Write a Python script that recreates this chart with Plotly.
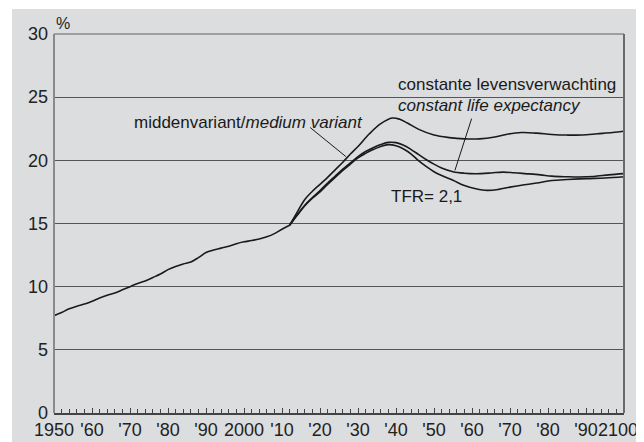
import plotly.graph_objects as go

# ---- data (percent) ----
hist_years = [1950, 1952, 1954, 1956, 1958, 1960, 1962, 1964, 1966, 1968, 1970, 1972, 1974, 1976,
              1978, 1980, 1982, 1984, 1986, 1988, 1990, 1992, 1994, 1996, 1998, 2000, 2002, 2004,
              2006, 2008, 2010, 2012]
hist_values = [7.7, 7.95, 8.25, 8.45, 8.62, 8.85, 9.1, 9.32, 9.5, 9.75, 10.0, 10.25, 10.45, 10.72,
               11.0, 11.35, 11.6, 11.8, 11.95, 12.3, 12.7, 12.9, 13.05, 13.2, 13.4, 13.55, 13.65, 13.78,
               13.95, 14.2, 14.55, 14.86]

le_years = [2012, 2014, 2016, 2018, 2020, 2022, 2024, 2026, 2028, 2030, 2033, 2036, 2039, 2041, 2043,
            2046, 2050, 2054, 2058, 2062, 2066, 2069, 2073, 2077, 2081, 2085, 2089, 2093, 2097, 2100]
le_values = [14.86, 15.9, 16.9, 17.55, 18.1, 18.65, 19.25, 19.85, 20.5, 21.1, 22.1, 22.9, 23.35, 23.25, 22.95,
             22.45, 22.0, 21.8, 21.7, 21.7, 21.85, 22.05, 22.2, 22.15, 22.05, 22.0, 22.0, 22.1, 22.2, 22.3]

med_years = [2012, 2014, 2016, 2018, 2020, 2022, 2024, 2026, 2028, 2030, 2032, 2034, 2036, 2038, 2040,
             2042, 2044, 2046, 2048, 2050, 2052, 2055, 2058, 2061, 2065, 2068, 2071, 2074, 2078, 2081,
             2085, 2088, 2092, 2096, 2100]
med_values = [14.86, 15.7, 16.45, 17.05, 17.6, 18.2, 18.75, 19.3, 19.8, 20.3, 20.7, 21.0, 21.25, 21.42, 21.4,
              21.2, 20.85, 20.45, 20.05, 19.7, 19.4, 19.1, 18.98, 18.94, 19.0, 19.07, 19.02, 18.95, 18.85, 18.75,
              18.7, 18.68, 18.72, 18.85, 18.95]

tfr_years = [2012, 2014, 2016, 2018, 2020, 2022, 2024, 2026, 2028, 2030, 2032, 2034, 2036, 2038, 2040,
             2042, 2044, 2046, 2048, 2050, 2052, 2055, 2058, 2061, 2064, 2067, 2070, 2073, 2077, 2081,
             2085, 2090, 2095, 2100]
tfr_values = [14.86, 15.65, 16.4, 17.0, 17.5, 18.1, 18.65, 19.2, 19.7, 20.2, 20.55, 20.85, 21.1, 21.24, 21.15,
              20.9, 20.5, 19.95, 19.5, 19.1, 18.8, 18.42, 18.0, 17.75, 17.62, 17.7, 17.88, 18.03, 18.2, 18.4,
              18.48, 18.55, 18.6, 18.7]

x_tickvals = [1950, 1960, 1970, 1980, 1990, 2000, 2010, 2020, 2030, 2040, 2050, 2060, 2070, 2080, 2090, 2100]
x_ticktext = ["1950", "'60", "'70", "'80", "'90", "2000", "'10", "'20", "'30", "'40", "'50", "'60", "'70",
              "'80", "'90", ""]
last_tick_label = "2100"   # drawn separately, nudged left so it stays inside the page
y_tickvals = [0, 5, 10, 15, 20, 25, 30]

FONT = "Liberation Sans, Arial, sans-serif"
LINE = dict(color="#1a1a1a", width=1.6)
ANN = 17
TICK = 18

fig = go.Figure()
for xs, ys in [(hist_years, hist_values), (le_years, le_values), (med_years, med_values), (tfr_years, tfr_values)]:
    fig.add_trace(go.Scatter(x=xs, y=ys, mode="lines", line=LINE, line_shape="spline",
                             hoverinfo="skip", showlegend=False))

shapes = [
    # gray panel behind plot area
    dict(type="rect", xref="paper", yref="paper", x0=-0.0737, x1=1.06, y0=-0.12, y1=1.066,
         fillcolor="#dcdddf", line=dict(width=0), layer="below"),
    # frame
    dict(type="line", xref="paper", yref="paper", x0=0, x1=0, y0=0, y1=1, line=dict(color="#8a8a8a", width=2)),
    dict(type="line", xref="paper", yref="paper", x0=0, x1=1, y0=1, y1=1, line=dict(color="#8a8a8a", width=1.5)),
    dict(type="line", xref="paper", yref="paper", x0=1, x1=1, y0=0, y1=1, line=dict(color="#6a6a6a", width=2)),
    # leader lines
    dict(type="line", xref="x", yref="y", x0=2017.4, y0=22.6, x1=2026.8, y1=20.3, line=dict(color="#1a1a1a", width=1)),
    dict(type="line", xref="x", yref="y", x0=2059.9, y0=23.3, x1=2055.5, y1=19.2, line=dict(color="#1a1a1a", width=1)),
]

annotations = [
    dict(text="%", xref="paper", yref="paper", x=0.0, y=1.0, xanchor="left", yanchor="bottom",
         showarrow=False, font=dict(size=16, family=FONT, color="#222")),
    dict(text="constante levensverwachting", xref="x", yref="y", x=2040.0, y=26.0, xanchor="left",
         yanchor="middle", showarrow=False, font=dict(size=ANN, family=FONT, color="#1a1a1a")),
    dict(text="<i>constant life expectancy</i>", xref="x", yref="y", x=2040.0, y=24.35, xanchor="left",
         yanchor="middle", showarrow=False, font=dict(size=ANN, family=FONT, color="#1a1a1a")),
    dict(text="middenvariant/<i>medium variant</i>", xref="x", yref="y", x=1970.4, y=23.0, xanchor="left",
         yanchor="middle", showarrow=False, font=dict(size=ANN, family=FONT, color="#1a1a1a")),
    dict(text="TFR= 2,1", xref="x", yref="y", x=2038.2, y=17.1, xanchor="left",
         yanchor="middle", showarrow=False, font=dict(size=ANN, family=FONT, color="#1a1a1a")),
    dict(text=last_tick_label, xref="x", yref="paper", x=x_tickvals[-1], y=0, xanchor="center",
         yanchor="middle", xshift=-6, yshift=-17, showarrow=False,
         font=dict(size=TICK, family=FONT, color="#222")),
]

fig.update_layout(
    width=636, height=434,
    margin=dict(l=46, r=20, t=26, b=29, autoexpand=False),
    paper_bgcolor="white", plot_bgcolor="white",
    font=dict(family=FONT, size=TICK, color="#222"),
    shapes=shapes, annotations=annotations,
    xaxis=dict(range=[1950, 2100], tickvals=x_tickvals, ticktext=x_ticktext, showgrid=False,
               zeroline=False, showline=True, linecolor="#444", linewidth=1.5, automargin=False,
               ticks="inside", ticklen=5, tickcolor="#444", tickwidth=1, ticklabelstandoff=0,
               minor=dict(dtick=2, tick0=1950, ticks="inside", ticklen=4, tickcolor="#444", tickwidth=1),
               tickfont=dict(size=TICK, family=FONT, color="#222"), fixedrange=True),
    yaxis=dict(range=[0, 30], tickvals=y_tickvals, showgrid=True, gridcolor="#555", gridwidth=1,
               zeroline=False, showline=False, ticks="", automargin=False, ticklabelstandoff=5,
               tickfont=dict(size=TICK, family=FONT, color="#222"), fixedrange=True),
)

fig.write_html("out.html")
